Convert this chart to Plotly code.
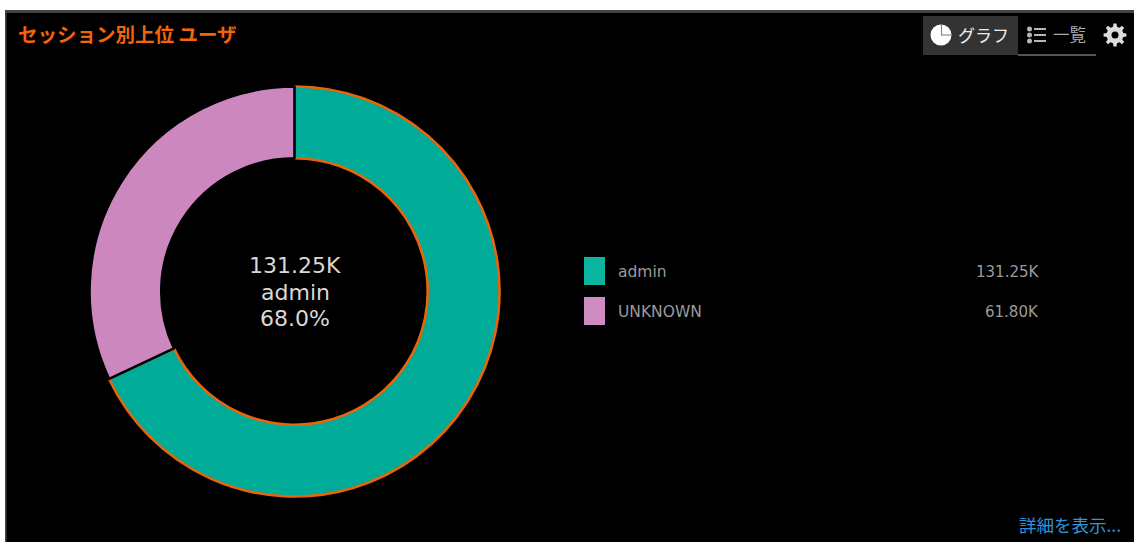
import math
import plotly.graph_objects as go

# Sessions per user
users = ["admin", "UNKNOWN"]
sessions = [131250, 61800]
slice_colors = ["#00ab97", "#cc88be"]
swatch_colors = ["#0ab5a1", "#cf8cc2"]
slice_borders = ["#e8650c", "#000000"]

title_text = "セッション別上位 ユーザ"
tab_chart = "グラフ"
tab_list = "一覧"
more_link = "詳細を表示..."

W, H = 1134, 542
CJK = "Noto Sans CJK JP"
LATIN = "DejaVu Sans"


def fmt_k(v):
    return f"{v / 1000:.2f}K"


def px(x):
    return x / W


def py(y):
    return 1 - y / H


def rect(x0, y0, x1, y1, fill, layer="below"):
    return dict(type="rect", xref="paper", yref="paper", layer=layer,
                x0=px(x0), x1=px(x1), y0=py(y1), y1=py(y0),
                fillcolor=fill, line=dict(width=0))


def dot(cx, cy, r, fill):
    return dict(type="circle", xref="paper", yref="paper", layer="above",
                x0=px(cx - r), x1=px(cx + r), y0=py(cy + r), y1=py(cy - r),
                fillcolor=fill, line=dict(width=0))


def gear(cx, cy, outer, root, teeth, fill):
    # Toothed outline as a closed polygon in paper coordinates
    pts = []
    step = 2 * math.pi / teeth
    for i in range(teeth):
        a = i * step - math.pi / 2
        for offset, r in ((-0.30, root), (-0.17, outer), (0.17, outer), (0.30, root)):
            t = a + offset * step
            pts.append((cx + r * math.cos(t), cy + r * math.sin(t)))
    d = "M " + " L ".join(f"{px(x):.5f},{py(y):.5f}" for x, y in pts) + " Z"
    return dict(type="path", xref="paper", yref="paper", layer="above", path=d,
                fillcolor=fill, line=dict(width=0))


def label(x, y, text, size, color, anchor="left", family=LATIN):
    return dict(xref="paper", yref="paper", x=px(x), y=py(y), text=text,
                showarrow=False, xanchor=anchor, yanchor="middle",
                font=dict(size=size, color=color, family=family),
                borderpad=0, align=anchor)


total = sum(sessions)
top = max(range(len(users)), key=lambda i: sessions[i])

fig = go.Figure(go.Pie(
    labels=users,
    values=sessions,
    hole=0.65,
    sort=False,
    direction="clockwise",
    rotation=0,
    textinfo="none",
    showlegend=False,
    marker=dict(colors=slice_colors, line=dict(color=slice_borders, width=2.6)),
    domain=dict(x=[px(89.5), px(499.5)], y=[py(497), py(86)]),
))

# Panel frame and tab bar
shapes = [
    rect(5, 10, W, H, "#000000"),
    rect(5, 10, W, 13, "#444444"),
    rect(5, 10, 6.5, H, "#444444"),
    rect(923, 16, 1018, 55, "#333333"),
    rect(1018, 54.5, 1096, 55.5, "#aaaaaa"),
]

# Pie glyph on the active tab
shapes.append(dot(941, 35, 10.5, "#ffffff"))
shapes.append(rect(941, 25, 942, 35, "#777777", layer="above"))
shapes.append(rect(941, 34.5, 951, 35.5, "#777777", layer="above"))

# List glyph on the second tab
for row_y in (29, 35, 41):
    shapes.append(dot(1029.5, row_y, 2.5, "#b5b5b5"))
    shapes.append(rect(1034, row_y - 1, 1046, row_y + 1, "#b5b5b5", layer="above"))

# Settings cog
shapes.append(gear(1115, 35, 11.5, 8.5, 8, "#dcdcdc"))
shapes.append(dot(1115, 35, 3.5, "#000000"))

# Legend swatches
row_ys = [271, 311]
for color, row_y in zip(swatch_colors, row_ys):
    shapes.append(rect(584, row_y - 14, 605, row_y + 14, color, layer="above"))

annotations = [
    label(16.5, 33.5, f"<b>{title_text}</b>", 19.5, "#f2650a", family=CJK),
    label(957, 34, tab_chart, 17, "#eeeeee", family=CJK),
    label(1052, 34, tab_list, 16.5, "#a8a8a8", family=CJK),
    label(1122, 524, more_link, 17.5, "#2f95dc", anchor="right", family=CJK),
    label(295, 265.5, fmt_k(sessions[top]), 22, "#d8d8d8", anchor="center"),
    label(295, 292, users[top], 22, "#d8d8d8", anchor="center"),
    label(295, 318, f"{sessions[top] / total * 100:.1f}%", 22, "#d8d8d8", anchor="center"),
]
for name, value, row_y in zip(users, sessions, row_ys):
    annotations.append(label(617, row_y + 0.5, name, 15.5, "#9a9a9a"))
    annotations.append(label(1040, row_y + 0.5, fmt_k(value), 15, "#9a9a9a", anchor="right"))

fig.update_layout(
    width=W,
    height=H,
    margin=dict(l=0, r=0, t=0, b=0),
    paper_bgcolor="#ffffff",
    plot_bgcolor="#000000",
    shapes=shapes,
    annotations=annotations,
)
fig.write_html("out.html", config=dict(displayModeBar=False))
